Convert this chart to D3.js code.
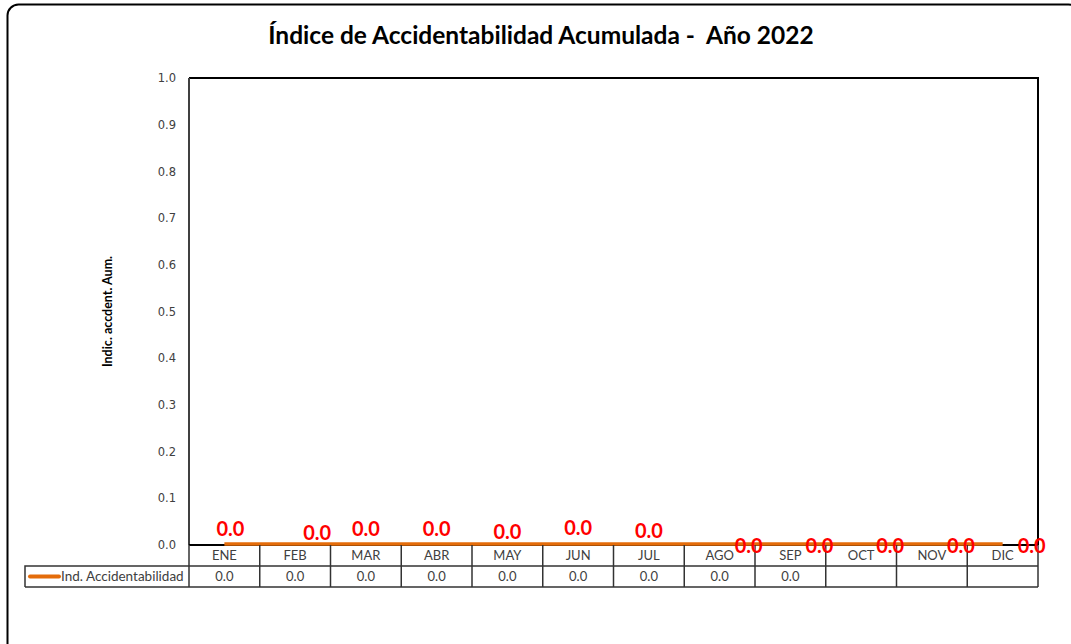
<!DOCTYPE html>
<html>
<head>
<meta charset="utf-8">
<script src="https://cdn.jsdelivr.net/npm/d3@7"></script>
<style>
  body { margin: 0; background: #fff; }
  svg { display: block; }
</style>
</head>
<body>
<svg id="chart"></svg>
<script>
// chart data
const months = ['ENE', 'FEB', 'MAR', 'ABR', 'MAY', 'JUN', 'JUL', 'AGO', 'SEP', 'OCT', 'NOV', 'DIC'];
const lineValues = [0, 0, 0, 0, 0, 0, 0, 0, 0, 0, 0, 0];
const tableValues = ['0.0', '0.0', '0.0', '0.0', '0.0', '0.0', '0.0', '0.0', '0.0', '', '', ''];
const yTicks = [0, 0.1, 0.2, 0.3, 0.4, 0.5, 0.6, 0.7, 0.8, 0.9, 1.0];
const seriesName = 'Ind. Accidentabilidad';

// hand-moved data label offsets (like the excel sheet)
const labelDx = [6, 22, 0, 0, 0, 0, 0, 29, 29, 29, 29, 29];
const labelDy = [-9, -5, -9, -9, -6, -10, -7, 8, 8, 8, 8, 8];

const width = 1071, height = 644;
const svg = d3.select('#chart').attr('width', width).attr('height', height);
const font = 'Lato, "Open Sans", sans-serif';

// outer frame
svg.append('rect')
    .attr('x', 7.5).attr('y', 4.5)
    .attr('width', 1072).attr('height', 650)
    .attr('rx', 11)
    .attr('fill', 'none')
    .attr('stroke', '#000')
    .attr('stroke-width', 2);

svg.append('text')
    .attr('x', 541).attr('y', 44)
    .attr('text-anchor', 'middle')
    .attr('font-family', font)
    .attr('font-weight', 'bold')
    .attr('font-size', 24.5)
    .style('white-space', 'pre')
    .attr('fill', '#000')
    .text('Índice de Accidentabilidad Acumulada -  Año 2022');

const plot = { left: 189, right: 1038, top: 78, bottom: 545 };

const x = d3.scaleBand().domain(months).range([plot.left, plot.right]);
const y = d3.scaleLinear().domain([0, 1]).range([plot.bottom, plot.top]);

// y axis labels
const yAxis = d3.axisLeft(y).tickValues(yTicks).tickFormat(d3.format('.1f')).tickSize(0).tickPadding(13);
const gy = svg.append('g').attr('transform', `translate(${plot.left},0)`).call(yAxis);
gy.select('.domain').remove();
gy.selectAll('text')
    .attr('font-family', '"DejaVu Sans", Verdana, sans-serif')
    .attr('font-size', 11.5)
    .attr('fill', '#404040');

svg.append('text')
    .attr('transform', `translate(112,${(plot.top + plot.bottom) / 2}) rotate(-90)`)
    .attr('text-anchor', 'middle')
    .attr('font-family', font)
    .attr('font-weight', 'bold')
    .attr('font-size', 12.5)
    .attr('fill', '#000')
    .text('Indic. accdent. Aum.');

// plot area border
svg.append('path')
    .attr('d', `M${plot.left},${plot.top}H${plot.right}V${plot.bottom}`)
    .attr('fill', 'none')
    .attr('stroke', '#000')
    .attr('stroke-width', 2);
svg.append('line')
    .attr('x1', plot.left).attr('x2', plot.left)
    .attr('y1', plot.top).attr('y2', plot.bottom)
    .attr('stroke', '#404040')
    .attr('stroke-width', 2);
svg.append('line')
    .attr('x1', plot.left).attr('x2', plot.right)
    .attr('y1', plot.bottom).attr('y2', plot.bottom)
    .attr('stroke', '#000')
    .attr('stroke-width', 2);

// the series line
const line = d3.line()
    .x((d, i) => x(months[i]) + x.bandwidth() / 2)
    .y(d => y(d) - 1);
svg.append('path')
    .datum(lineValues)
    .attr('d', line)
    .attr('fill', 'none')
    .attr('stroke', '#E46C0A')
    .attr('stroke-width', 3.5);

// data table
const row1 = plot.bottom, row2 = 566, row3 = 587;
const tableLeft = 25;
const grid = svg.append('g').attr('stroke', '#333').attr('stroke-width', 1.5);
grid.append('path')
    .attr('fill', 'none')
    .attr('d', `M${tableLeft},${row3}V${row2}H${plot.right}M${tableLeft},${row3}H${plot.right}`);
grid.selectAll('.vline').data(d3.range(months.length + 1))
    .enter().append('line')
    .attr('class', 'vline')
    .attr('x1', i => plot.left + i * x.step())
    .attr('x2', i => plot.left + i * x.step())
    .attr('y1', row1).attr('y2', row3);

svg.selectAll('.cat').data(months)
    .enter().append('text')
    .attr('class', 'cat')
    .attr('x', d => x(d) + x.bandwidth() / 2)
    .attr('y', row1 + 15)
    .attr('text-anchor', 'middle')
    .attr('font-family', font)
    .attr('font-size', 13)
    .attr('fill', '#404040')
    .text(d => d);

svg.selectAll('.val').data(tableValues)
    .enter().append('text')
    .attr('class', 'val')
    .attr('x', (d, i) => x(months[i]) + x.bandwidth() / 2)
    .attr('y', row2 + 15)
    .attr('text-anchor', 'middle')
    .attr('font-family', font)
    .attr('font-size', 13)
    .attr('fill', '#404040')
    .text(d => d);

// legend key in the table
svg.append('line')
    .attr('x1', 30).attr('x2', 59)
    .attr('y1', (row2 + row3) / 2).attr('y2', (row2 + row3) / 2)
    .attr('stroke', '#E46C0A')
    .attr('stroke-width', 4)
    .attr('stroke-linecap', 'round');
svg.append('text')
    .attr('x', 61).attr('y', row2 + 15)
    .attr('font-family', font)
    .attr('font-size', 13.5)
    .attr('fill', '#404040')
    .text(seriesName);

// data labels
svg.selectAll('.lbl').data(lineValues)
    .enter().append('text')
    .attr('class', 'lbl')
    .attr('x', (d, i) => x(months[i]) + x.bandwidth() / 2 + labelDx[i])
    .attr('y', (d, i) => y(d) + labelDy[i])
    .attr('text-anchor', 'middle')
    .attr('font-family', font)
    .attr('font-weight', 'bold')
    .attr('font-size', 20)
    .attr('fill', '#FF0000')
    .text(d => d3.format('.1f')(d));
</script>
</body>
</html>
